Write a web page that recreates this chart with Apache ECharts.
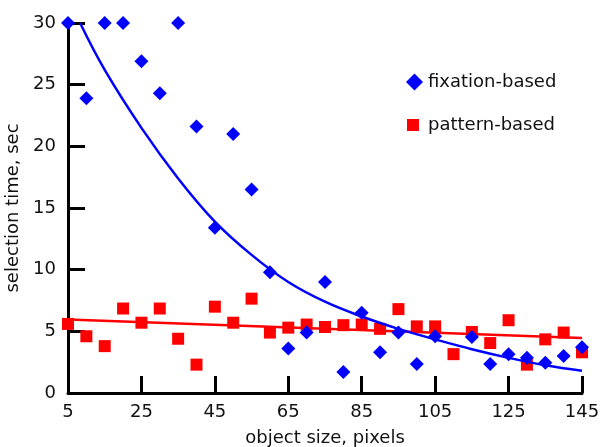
<!DOCTYPE html>
<html lang="en">
<head>
<meta charset="UTF-8">
<title></title>
<style>
    html, body { margin: 0; padding: 0; background: #fff; }
    #chart { width: 600px; height: 447px; }
</style>
</head>
<body>
<div id="chart"></div>
<script src="https://cdn.jsdelivr.net/npm/echarts@6/dist/echarts.min.js"></script>
<script>
    // object sizes (pixels)
    var sizes = [5, 10, 15, 20, 25, 30, 35, 40, 45, 50, 55, 60, 65, 70, 75,
                 80, 85, 90, 95, 100, 105, 110, 115, 120, 125, 130, 135, 140, 145];
    // selection time, sec (null = no visible point)
    var fixation = [30, 23.9, 30, 30, 26.9, 24.3, 30, 21.6, 13.4, 21, 16.5, 9.8, 3.6, 4.9, 9.0,
                    1.7, 6.5, 3.3, 4.9, 2.35, 4.6, null, 4.55, 2.35, 3.15, 2.85, 2.45, 3.0, 3.7];
    var pattern = [5.6, 4.6, 3.8, 6.85, 5.7, 6.85, 4.4, 2.3, 7.0, 5.7, 7.65, 4.9, 5.3, 5.55, 5.35,
                   5.5, 5.55, 5.2, 6.8, 5.4, 5.4, 3.15, 4.95, 4.05, 5.9, 2.3, 4.35, 4.9, 3.3];
    // fitted curves
    var fixFitX = [8.3, 15, 25, 35, 45, 55, 65, 75, 85, 95, 105, 115, 125, 135, 145];
    var fixFitY = [30, 26.2, 21.5, 17.4, 13.9, 11.2, 9.0, 7.4, 6.2, 5.2, 4.35, 3.55, 2.85, 2.25, 1.8];
    var patFitX = [5, 145];
    var patFitY = [5.95, 4.45];
    var xTicks = [5, 25, 45, 65, 85, 105, 125, 145];

    function pairs(xs, ys) {
        var out = [];
        for (var i = 0; i < xs.length; i++) {
            if (ys[i] !== null) out.push([xs[i], ys[i]]);
        }
        return out;
    }

    var font = 'DejaVu Sans';
    var chart = echarts.init(document.getElementById('chart'));

    var option = {
        animation: false,
        backgroundColor: '#fff',
        textStyle: { fontFamily: font },
        grid: { left: 68, right: 18, top: 23, bottom: 54, outerBoundsMode: 'none' },
        legend: [
            {
                left: 406, top: 73, padding: 0,
                itemWidth: 17, itemHeight: 17,
                textStyle: { fontFamily: font, fontSize: 18, color: '#111' },
                data: [{ name: 'fixation-based', icon: 'diamond' }]
            },
            {
                left: 407, top: 116, padding: 0,
                itemWidth: 12, itemHeight: 12,
                textStyle: { fontFamily: font, fontSize: 18, color: '#111', padding: [0, 0, 0, 4] },
                data: [{ name: 'pattern-based', icon: 'rect' }]
            }
        ],
        xAxis: {
            type: 'value',
            min: 5,
            max: 145,
            interval: 20,
            name: 'object size, pixels',
            nameLocation: 'middle',
            nameGap: 36,
            nameTextStyle: { fontFamily: font, fontSize: 18, color: '#111' },
            splitLine: { show: false },
            axisLine: { lineStyle: { color: '#000', width: 3 } },
            axisTick: { inside: true, length: 17, lineStyle: { color: '#000', width: 3 } },
            axisLabel: {
                margin: 10, fontFamily: font, fontSize: 18, color: '#111',
                formatter: function (v) { return xTicks.indexOf(v) >= 0 ? v : ''; }
            }
        },
        yAxis: {
            type: 'value',
            min: 0,
            max: 30,
            interval: 5,
            name: 'selection time, sec',
            nameLocation: 'middle',
            nameGap: 42,
            nameTextStyle: { fontFamily: font, fontSize: 18, color: '#111' },
            splitLine: { show: false },
            axisLine: { show: true, lineStyle: { color: '#000', width: 3 } },
            axisTick: { show: true, inside: true, length: 17, lineStyle: { color: '#000', width: 3 } },
            axisLabel: { margin: 12, fontFamily: font, fontSize: 18, color: '#111' }
        },
        series: [
            {
                name: 'pattern-fit',
                type: 'line',
                data: pairs(patFitX, patFitY),
                showSymbol: false,
                lineStyle: { color: '#ff0000', width: 2.5 },
                itemStyle: { color: '#ff0000' },
                z: 2
            },
            {
                name: 'pattern-based',
                type: 'scatter',
                data: pairs(sizes, pattern),
                symbol: 'rect',
                symbolSize: 12,
                itemStyle: { color: '#ff0000', opacity: 1 },
                clip: false,
                z: 3
            },
            {
                name: 'fixation-fit',
                type: 'line',
                data: pairs(fixFitX, fixFitY),
                smooth: 0.4,
                showSymbol: false,
                lineStyle: { color: '#0000ff', width: 2.5 },
                itemStyle: { color: '#0000ff' },
                z: 4
            },
            {
                name: 'fixation-based',
                type: 'scatter',
                data: pairs(sizes, fixation),
                symbol: 'diamond',
                symbolSize: 14,
                itemStyle: { color: '#0000ff', opacity: 1 },
                clip: false,
                z: 5
            }
        ]
    };

    chart.setOption(option);
</script>
</body>
</html>
